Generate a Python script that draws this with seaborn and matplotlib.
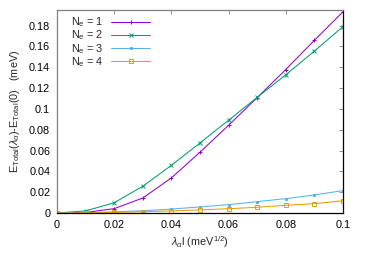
import numpy as np
import pandas as pd
import seaborn as sns
import matplotlib
matplotlib.use("Agg")
import matplotlib.pyplot as plt
from matplotlib.lines import Line2D

lam = [0.0, 0.01, 0.02, 0.03, 0.04, 0.05, 0.06, 0.07, 0.08, 0.09, 0.1]
ne1 = [0.0, 0.0005, 0.0042, 0.0144, 0.0337, 0.0584, 0.0843, 0.1108, 0.1378, 0.1658, 0.1932]
ne2 = [0.0, 0.0020, 0.0099, 0.0257, 0.0458, 0.0673, 0.0891, 0.1111, 0.1327, 0.1555, 0.1790]
ne3 = [0.0, 0.0003, 0.0010, 0.0022, 0.0038, 0.0058, 0.0080, 0.0109, 0.0138, 0.0173, 0.0215]
ne4 = [0.0, 0.0002, 0.0006, 0.0012, 0.0020, 0.0030, 0.0041, 0.0055, 0.0074, 0.0089, 0.0118]
labels = [r"N$_\mathrm{e}$ = 1", r"N$_\mathrm{e}$ = 2", r"N$_\mathrm{e}$ = 3", r"N$_\mathrm{e}$ = 4"]
colors = ["#9400d3", "#009e73", "#56b4e9", "#e69f00"]
markers = ["+", "x", "s", "s"]

sns.set_style("white")
plt.rcParams['font.family'] = ['Liberation Sans', 'DejaVu Sans']
plt.rcParams['mathtext.fontset'] = 'custom'
plt.rcParams['mathtext.rm'] = 'Liberation Sans'
plt.rcParams['mathtext.it'] = 'Liberation Sans:italic'
plt.rcParams['font.size'] = 7.8

df = pd.DataFrame({"lam": lam * 4,
                   "E": ne1 + ne2 + ne3 + ne4,
                   "series": sum([[l] * len(lam) for l in labels], [])})

fig = plt.figure(figsize=(3.66, 2.56), dpi=100)
ax = fig.add_axes([0.156, 0.168, 0.781, 0.793])

handles = []
for i, lab in enumerate(labels):
    sub = df[df.series == lab]
    face = "none" if i == 3 else colors[i]
    ms = 3.0 if i == 3 else (2.0 if i == 2 else 3.2)
    style = dict(color=colors[i], marker=markers[i], markersize=ms, markerfacecolor=face,
                 markeredgecolor=colors[i], markeredgewidth=0.7, linewidth=0.75)
    sns.lineplot(data=sub, x="lam", y="E", ax=ax, legend=False, **style)
    handles.append(Line2D([], [], label=lab, **style))

ax.set_xlim(0, 0.1)
ax.set_ylim(0, 0.195)
ax.set_xticks([0, 0.02, 0.04, 0.06, 0.08, 0.1])
ax.set_xticklabels(["0", "0.02", "0.04", "0.06", "0.08", "0.1"])
ax.set_yticks([0, 0.02, 0.04, 0.06, 0.08, 0.1, 0.12, 0.14, 0.16, 0.18])
ax.set_yticklabels(["0", "0.02", "0.04", "0.06", "0.08", "0.1", "0.12", "0.14", "0.16", "0.18"])
ax.tick_params(direction="in", length=3, width=0.6, top=True, right=True, pad=5, colors="#808080", labelcolor="black")

for s in ["left", "top"]:
    ax.spines[s].set_color("#808080")
for s in ["right", "bottom"]:
    ax.spines[s].set_color("black")
for s in ax.spines.values():
    s.set_linewidth(0.9)

ax.set_xlabel(r"$\lambda_\alpha$l (meV$^{1/2}$)", labelpad=3)
ax.set_ylabel(r"E$_\mathrm{Total}$($\lambda_\alpha$)-E$_\mathrm{Total}$(0)   (meV)", labelpad=5)

ax.legend(handles=handles, loc="upper left", frameon=False, markerfirst=False, handlelength=3.6,
          borderaxespad=0.1, labelspacing=-0.05, handletextpad=0.7, bbox_to_anchor=(0.03, 1.0))

fig.savefig("out.png", dpi=100)
